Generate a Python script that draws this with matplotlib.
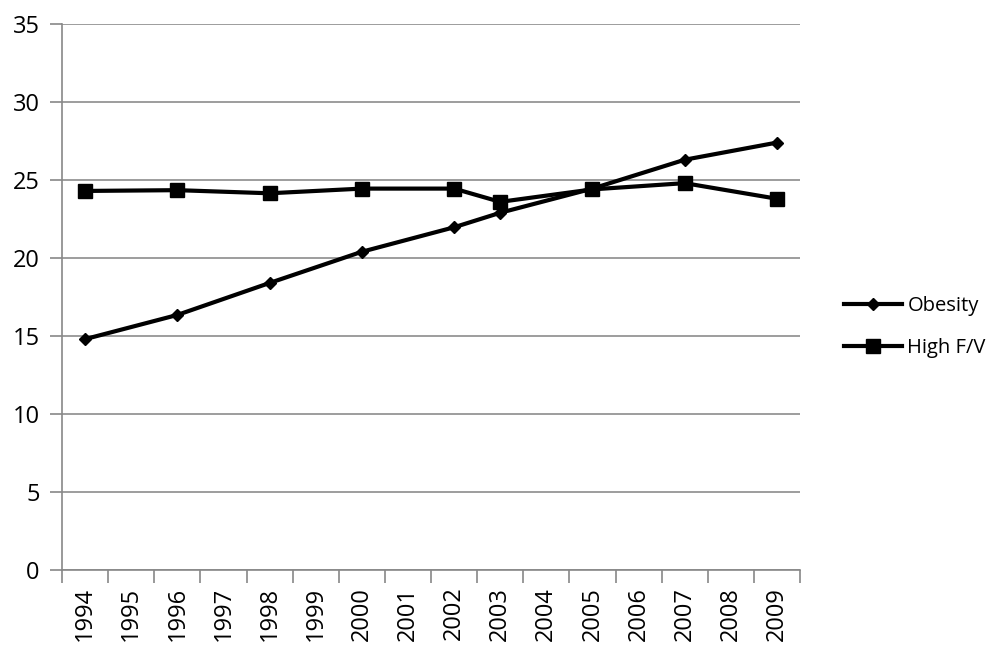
import matplotlib
matplotlib.use("Agg")
import matplotlib.pyplot as plt
from matplotlib.ticker import FixedLocator

plt.rcParams["font.family"] = ["Open Sans", "DejaVu Sans"]

# category axis labels
years = ["1994", "1995", "1996", "1997", "1998", "1999", "2000", "2001",
         "2002", "2003", "2004", "2005", "2006", "2007", "2008", "2009"]

# survey years that have data
obesity_years = ["1994", "1996", "1998", "2000", "2002", "2003", "2005", "2007", "2009"]
obesity = [14.8, 16.35, 18.4, 20.4, 21.97, 22.9, 24.45, 26.3, 27.4]

fv_years = ["1994", "1996", "1998", "2000", "2002", "2003", "2005", "2007", "2009"]
high_fv = [24.3, 24.35, 24.15, 24.45, 24.45, 23.6, 24.4, 24.8, 23.8]

y_ticks = [0, 5, 10, 15, 20, 25, 30, 35]


def main():
    fig = plt.figure(figsize=(10, 6.53), dpi=100)
    ax = fig.add_axes([0.062, 0.1271, 0.738, 0.8361])

    ox = [years.index(y) for y in obesity_years]
    fx = [years.index(y) for y in fv_years]

    ax.plot(ox, obesity, color="black", lw=3, marker="D", ms=6,
            label="Obesity", zorder=3)
    ax.plot(fx, high_fv, color="black", lw=3, marker="s", ms=10,
            label="High F/V", zorder=3)

    ax.set_xlim(-0.5, len(years) - 0.5)
    ax.set_ylim(0, 35)
    ax.set_yticks(y_ticks)
    ax.set_xticks(range(len(years)))
    ax.set_xticklabels(years, rotation=90, fontsize=17)
    ax.xaxis.set_minor_locator(FixedLocator([i - 0.5 for i in range(len(years) + 1)]))
    ax.tick_params(axis="x", which="major", length=0, pad=12)
    ax.tick_params(axis="x", which="minor", length=9, color="#888888", width=1.2)
    ax.tick_params(axis="y", length=9, color="#888888", width=1.2, labelsize=17, pad=7)

    ax.grid(True, axis="y", color="#8c8c8c", lw=1.2)
    ax.set_axisbelow(True)
    for side in ["top", "right"]:
        ax.spines[side].set_visible(False)
    for side in ["left", "bottom"]:
        ax.spines[side].set_color("#888888")
        ax.spines[side].set_linewidth(1.2)

    ax.legend(loc="center left", bbox_to_anchor=(1.035, 0.445), frameon=False,
              fontsize=14.5, handlelength=2.9, handletextpad=0.25,
              labelspacing=1.05)

    fig.savefig("out.png", dpi=100)
    plt.close(fig)


if __name__ == "__main__":
    main()
